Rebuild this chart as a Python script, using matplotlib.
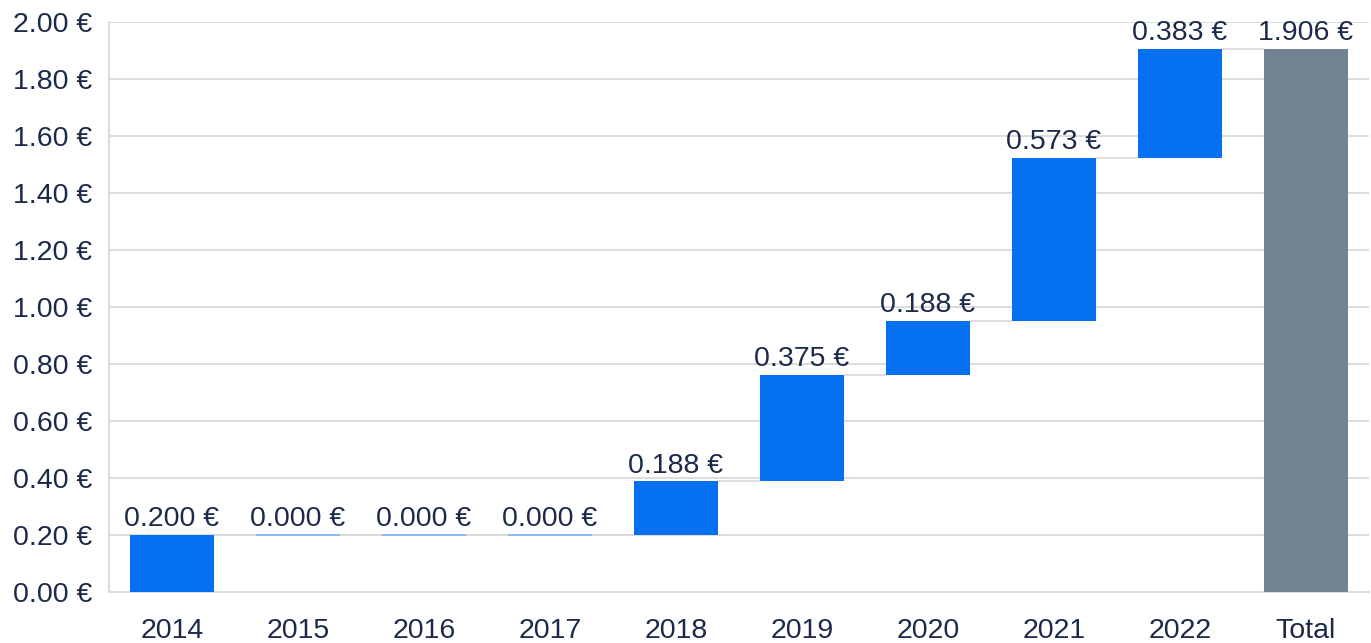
import matplotlib
matplotlib.use("Agg")
import matplotlib.pyplot as plt
import numpy as np

categories = ["2014", "2015", "2016", "2017", "2018", "2019", "2020", "2021", "2022", "Total"]
changes = [0.200, 0.000, 0.000, 0.000, 0.188, 0.375, 0.188, 0.573, 0.383]
total = 1.906
labels = ["0.200 €", "0.000 €", "0.000 €", "0.000 €", "0.188 €", "0.375 €", "0.188 €", "0.573 €", "0.383 €", "1.906 €"]
yticks = [0.0, 0.2, 0.4, 0.6, 0.8, 1.0, 1.2, 1.4, 1.6, 1.8, 2.0]

plt.rcParams['font.family'] = ['Liberation Sans', 'DejaVu Sans']
text_color = "#1b2a4a"
blue = "#0570f0"
gray_bar = "#738293"
zero_col = "#8fb8f2"

W, H = 1371, 643
fig = plt.figure(figsize=(W / 100, H / 100), dpi=100)
ax = fig.add_axes([109 / W, (643 - 592) / H, (1369 - 109) / W, (592 - 22) / H])

x = np.arange(len(categories))
bw = 0.667
cum = 0.0
tops = []
for i, c in enumerate(changes):
    bottom = cum
    if c == 0:
        ax.bar(x[i], 0.004, bottom=bottom - 0.002, width=bw, color=zero_col, linewidth=0, zorder=3)
    else:
        ax.bar(x[i], c, bottom=bottom, width=bw, color=blue, linewidth=0, zorder=3)
    cum += c
    tops.append(cum)
ax.bar(x[-1], total, bottom=0, width=bw, color=gray_bar, linewidth=0, zorder=3)
tops.append(total)

# connectors
for i in range(len(categories) - 1):
    ax.plot([x[i] + bw / 2, x[i + 1] - bw / 2], [tops[i], tops[i]], color="#d9d9d9", lw=1.2, zorder=2)

fs = 20.5
for i, lab in enumerate(labels):
    ax.text(x[i], tops[i] + 0.010, lab, ha="center", va="bottom", fontsize=fs, color=text_color, zorder=4)

ax.set_xlim(-0.5, len(categories) - 0.5)
ax.set_ylim(0, 2.0)
ax.set_yticks(yticks)
ax.set_yticklabels([f"{v:.2f} €" for v in yticks])
ax.set_xticks(x)
ax.set_xticklabels(categories)
ax.tick_params(axis="both", length=0, labelsize=fs, labelcolor=text_color)
ax.tick_params(axis="y", pad=12)
ax.tick_params(axis="x", pad=19)
ax.grid(axis="y", color="#dcdcdc", lw=1.4, zorder=0)
ax.set_axisbelow(True)
for s in ["top", "right"]:
    ax.spines[s].set_visible(False)
for s in ["left", "bottom"]:
    ax.spines[s].set_color("#dcdcdc")
    ax.spines[s].set_linewidth(1.4)

fig.savefig("out.png", dpi=100)
